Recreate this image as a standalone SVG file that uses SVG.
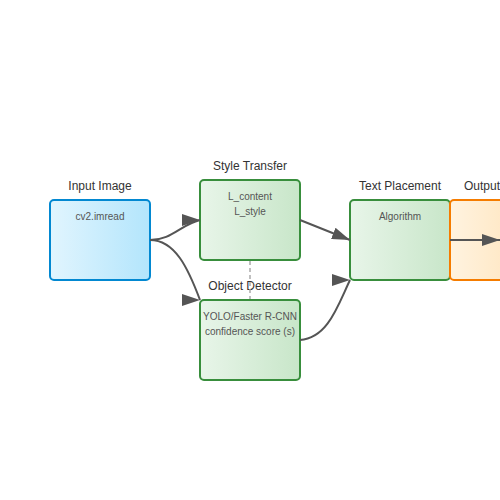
<svg xmlns="http://www.w3.org/2000/svg" width="500" height="500" viewBox="0 0 500 500">
<defs>
<linearGradient id="gBlue" x1="0" y1="0" x2="1" y2="0"><stop offset="0" stop-color="#e1f5fe"/><stop offset="1" stop-color="#b3e5fc"/></linearGradient>
<linearGradient id="gGreen" x1="0" y1="0" x2="1" y2="0"><stop offset="0" stop-color="#e8f5e9"/><stop offset="1" stop-color="#c8e6c9"/></linearGradient>
<linearGradient id="gOrange" x1="0" y1="0" x2="1" y2="0"><stop offset="0" stop-color="#fff3e0"/><stop offset="1" stop-color="#ffe0b2"/></linearGradient>
<marker id="arrA" markerUnits="userSpaceOnUse" markerWidth="18" markerHeight="12" refX="18" refY="6" orient="auto"><path d="M0,0 L18,6 L0,12 z" fill="#555"/></marker>
<marker id="arrH" markerUnits="userSpaceOnUse" markerWidth="18" markerHeight="12" refX="18" refY="6" orient="0"><path d="M0,0 L18,6 L0,12 z" fill="#555"/></marker>
</defs>
<style>
.title{font-family:"Liberation Sans",Arial,sans-serif;font-size:12px;fill:#333;text-anchor:middle}
.sub{font-family:"Liberation Sans",Arial,sans-serif;font-size:10px;fill:#555;text-anchor:middle}
.blue{fill:url(#gBlue);stroke:#0288d1;stroke-width:2}
.green{fill:url(#gGreen);stroke:#388e3c;stroke-width:2}
.orange{fill:url(#gOrange);stroke:#f57c00;stroke-width:2}
.edge{fill:none;stroke:#555;stroke-width:2}
.dash{fill:none;stroke:#aaa;stroke-width:1.5;stroke-dasharray:4,3}
</style>
<rect width="500" height="500" fill="#fff"/>
<g id="input">
<rect class="blue" x="50" y="200" width="100" height="80" rx="4"/>
<text class="title" x="100" y="190">Input Image</text>
<text class="sub" x="100" y="220">cv2.imread</text>
</g>
<g id="style">
<rect class="green" x="200" y="180" width="100" height="80" rx="4"/>
<text class="title" x="250" y="170">Style Transfer</text>
<text class="sub" x="250" y="200">L_content</text>
<text class="sub" x="250" y="215">L_style</text>
</g>
<g id="detector">
<rect class="green" x="200" y="300" width="100" height="80" rx="4"/>
<text class="title" x="250" y="290">Object Detector</text>
<text class="sub" x="250" y="320">YOLO/Faster R-CNN</text>
<text class="sub" x="250" y="335">confidence score (s)</text>
</g>
<g id="placement">
<rect class="green" x="350" y="200" width="100" height="80" rx="4"/>
<text class="title" x="400" y="190">Text Placement</text>
<text class="sub" x="400" y="220">Algorithm</text>
</g>
<g id="output">
<rect class="orange" x="450" y="200" width="100" height="80" rx="4"/>
<text class="title" x="464" y="190" style="text-anchor:start">Output</text>
</g>
<g id="connectors">
<path class="dash" d="M250,261 L250,299"/>
<path class="edge" d="M150,240 C172,240 180,225 200,220" marker-end="url(#arrH)"/>
<path class="edge" d="M150,240 C175,240 188,268 200,300" marker-end="url(#arrH)"/>
<path class="edge" d="M300,220 L350,240" marker-end="url(#arrA)"/>
<path class="edge" d="M300,340 C328,338 338,305 350,280" marker-end="url(#arrH)"/>
<path class="edge" d="M450,240 L500,240" marker-end="url(#arrH)"/>
</g>
</svg>
